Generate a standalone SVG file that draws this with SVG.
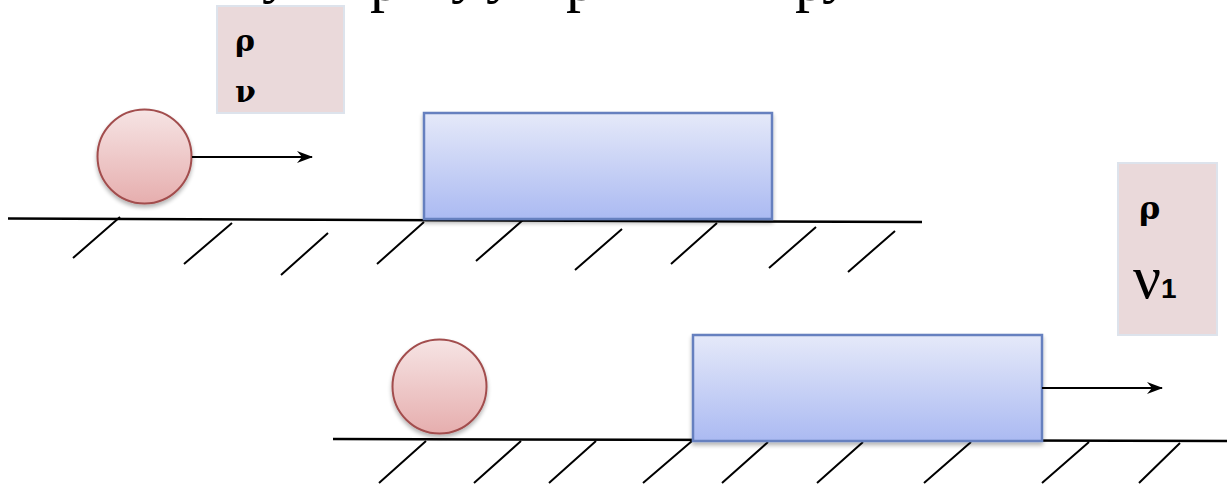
<svg xmlns="http://www.w3.org/2000/svg" width="1227" height="485" viewBox="0 0 1227 485">
<defs>
<linearGradient id="ballG" x1="0" y1="0" x2="0" y2="1">
<stop offset="0" stop-color="#f6e4e4"/>
<stop offset="1" stop-color="#e6aeae"/>
</linearGradient>
<linearGradient id="blockG" x1="0" y1="0" x2="0" y2="1">
<stop offset="0" stop-color="#e5e9f9"/>
<stop offset="1" stop-color="#abbaf2"/>
</linearGradient>
<filter id="sh" x="-20%" y="-20%" width="140%" height="150%">
<feGaussianBlur in="SourceAlpha" stdDeviation="2"/>
<feOffset dx="0" dy="3" result="b"/>
<feComponentTransfer><feFuncA type="linear" slope="0.3"/></feComponentTransfer>
<feMerge><feMergeNode/><feMergeNode in="SourceGraphic"/></feMerge>
</filter>
<marker id="arr" viewBox="0 0 16 12" refX="15" refY="6" markerWidth="16" markerHeight="12" markerUnits="userSpaceOnUse" orient="auto">
<path d="M0,0 L16,6 L0,12 L5,6 Z" fill="#000"/>
</marker>
<style>
.ball{fill:url(#ballG);stroke:#a24d4d;stroke-width:2}
.block{fill:url(#blockG);stroke:#6680bf;stroke-width:2.5}
.lbl{fill:#ead9da;stroke:#dde3ec;stroke-width:2}
.ground{stroke:#000;stroke-width:2.5;fill:none}
.hatch{stroke:#000;stroke-width:2;fill:none}
.vec{stroke:#000;stroke-width:2;fill:none}
.t{font-family:"DejaVu Serif","Liberation Serif",serif;font-weight:bold;fill:#000}
.top{font-family:"Liberation Serif","Times New Roman",serif;font-size:60px;fill:#000}
</style>
</defs>
<rect width="1227" height="485" fill="#fff"/>

<g id="heading">
<text class="top" x="262" y="-9">у</text>
<text class="top" x="370" y="0">р</text>
<text class="top" x="451" y="-9">у</text>
<text class="top" x="486" y="-9">у</text>
<text class="top" x="566" y="0">р</text>
<text class="top" x="795" y="0">р</text>
<text class="top" x="822" y="-9">у</text>
</g>

<g id="label1">
<rect class="lbl" x="217" y="6" width="127" height="107"/>
<text class="t" x="235" y="51" font-size="30">ρ</text>
<text class="t" x="235" y="102" font-size="30">ν</text>
</g>

<g id="label2">
<rect class="lbl" x="1118" y="163" width="99" height="172"/>
<text class="t" x="1139" y="219" font-size="32">ρ</text>
<text x="1133" y="298" font-family="Liberation Serif, Times New Roman, serif" font-size="62" fill="#000">ν<tspan font-family="Liberation Sans, Arial, sans-serif" font-weight="bold" font-size="28">1</tspan></text>
</g>

<g id="ground1">
<line class="ground" x1="8" y1="218.5" x2="922" y2="222"/>
<path class="hatch" d="M120,217 L73,258 M232,223 L184,264 M328,233 L281,275 M424,222 L377,264 M523,220 L476,261 M622,229 L575,270 M717,223 L671,264 M816,227 L769,268 M895,231 L848,272"/>
</g>

<g id="ground2">
<line class="ground" x1="333" y1="439" x2="1227" y2="441"/>
<path class="hatch" d="M426,441 L379,483 M521,441 L474,483 M596,441 L549,483 M692,441 L643,483 M768,442 L722,483 M863,442 L817,483 M971,442 L924,483 M1089,442 L1042,483 M1180,443 L1139,483"/>
</g>

<g id="ball1">
<circle class="ball" cx="144.5" cy="156.5" r="47" filter="url(#sh)"/>
</g>

<g id="block1">
<rect class="block" x="424" y="113" width="348" height="106" filter="url(#sh)"/>
</g>

<g id="ball2">
<circle class="ball" cx="439.5" cy="386.5" r="47" filter="url(#sh)"/>
</g>

<g id="block2">
<rect class="block" x="693" y="335" width="349" height="106" filter="url(#sh)"/>
</g>

<g id="connectors">
<line class="vec" x1="192" y1="157" x2="312" y2="157" marker-end="url(#arr)"/>
<line class="vec" x1="1042" y1="388" x2="1162" y2="388" marker-end="url(#arr)"/>
</g>
</svg>
